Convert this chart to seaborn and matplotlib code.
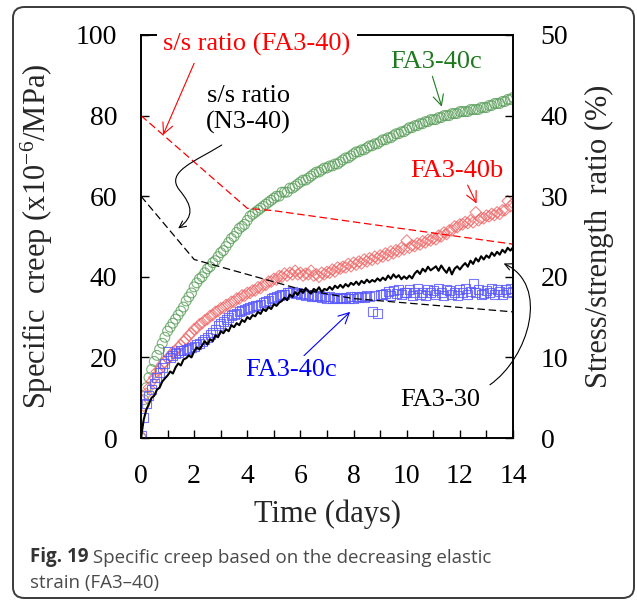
import matplotlib
matplotlib.use("Agg")
import numpy as np
import pandas as pd
import matplotlib.pyplot as plt
import seaborn as sns
from matplotlib.patches import FancyBboxPatch, FancyArrowPatch
from matplotlib.path import Path

# ---------------- data ----------------
days = [round(i * 0.1, 1) for i in range(141)]

creep_fa3_40c_green = [
    0, 9.5, 12.5, 15, 17, 19, 20.5, 22, 23.5, 25, 26.5,
    27.5, 28.5, 29.5, 30.5, 31.5, 32.5, 34, 35, 36, 37.5,
    38.5, 39.5, 40, 41, 42, 42.5, 43.5, 44, 45, 46,
    46.5, 47.5, 48.5, 49.5, 50, 51, 52, 52.5, 53, 54,
    55, 55.5, 56, 56.5, 57, 57.5, 58, 58.5, 59, 59.5,
    60, 60, 61, 61, 61, 62, 62, 62.5, 63, 63.5,
    64, 64, 64.5, 65, 65.5, 66, 66, 66.5, 67, 67,
    67.5, 67.5, 68, 68, 68.5, 69, 69.5, 69.5, 70, 70.5,
    71, 71, 71.5, 71.5, 72, 72.5, 72.5, 73, 73, 73.5,
    74, 74, 74.5, 74.5, 75, 75.5, 75.5, 76, 76, 76.5,
    77, 77, 77.5, 77.5, 78, 78, 78.5, 78.5, 79, 79,
    79, 79.5, 79.5, 80, 80, 80, 80.5, 80.5, 80.5, 81,
    81, 81, 81, 81.5, 81.5, 81.5, 81.5, 82, 82, 82,
    82.5, 82.5, 83, 83, 83, 83.5, 83.5, 84, 84, 84.5,
]

creep_fa3_40b_red = [
    0.5, 8, 11, 12.5, 14, 15, 16.5, 17, 18.3, 18.8, 19.8,
    20.2, 21.3, 21.6, 22.5, 23, 24, 24.5, 25.5, 26, 27,
    27.3, 28.2, 28.5, 29.2, 29.5, 30.3, 30.5, 31.3, 31.5, 32.2,
    32.3, 33, 33, 33.8, 33.8, 34.6, 34.6, 35.4, 35.3, 36,
    36, 36.6, 36.6, 37.4, 37.2, 38, 38, 38.8, 38.8, 39.5,
    39.3, 40.2, 40, 40.8, 40.3, 41, 40.6, 41.5, 40.6, 41,
    40.3, 40.8, 40.6, 41.5, 40.3, 40.6, 40, 41, 40.6, 41.2,
    41, 41.8, 41.3, 42.3, 42, 42.5, 42.3, 43.2, 42.6, 43.5,
    43, 43.8, 43.3, 44.3, 43.8, 44.6, 44.2, 45, 44.5, 45.3,
    45, 45.8, 45.3, 46.3, 45.8, 46.6, 46.3, 47.2, 46.8, 49,
    47.2, 47.8, 47.6, 48.3, 48, 48.8, 48.5, 49.2, 49, 49.6,
    49.3, 50.2, 50, 51, 50.6, 51.5, 51.5, 52.5, 52.3, 53,
    53, 53.6, 53.3, 54, 53.5, 56, 54, 54.6, 54.5, 55.2,
    55, 55.6, 55.3, 56, 55.6, 56.5, 56.5, 58.8, 57.5, 58.2,
]

creep_fa3_40c_blue = [
    0.5, 5, 8.5, 10.5, 12, 13.5, 15, 16.3, 17.5, 18.5, 21.5,
    20, 20.5, 21, 21.3, 21.6, 21.8, 22, 22.3, 22.5, 22.8,
    23.2, 23.5, 24, 24.5, 25, 25.8, 26.3, 27, 27.8, 28.5,
    29, 29.5, 30, 30.3, 30.6, 31, 31.3, 31.6, 31.9, 32.2,
    32.4, 32.6, 32.8, 33, 33.2, 33.5, 33.8, 34.2, 34.5, 34.8,
    35, 35.3, 35.5, 35.7, 36.2, 36.0, 36.4, 35.9, 36.1, 35.6,
    35.8, 35.4, 35.6, 35.2, 35.4, 35.0, 35.3, 34.8, 35.1, 34.7,
    35.0, 34.6, 34.9, 34.5, 34.8, 34.6, 34.9, 34.6, 35.0, 34.7,
    35.0, 34.8, 35.2, 34.9, 35.3, 35.1, 31.5, 35.4, 31.0, 35.6,
    35.6, 35.9, 36.3, 35.3, 36.6, 35.8, 36.9, 35.5, 36.2, 36.0,
    36.8, 35.4, 36.1, 37.0, 35.6, 36.2, 35.3, 36.9, 36.0, 36.6,
    35.5, 37.0, 36.1, 35.4, 36.8, 36.6, 35.7, 36.2, 35.3, 36.9,
    36.1, 37.0, 35.6, 36.3, 38.4, 36.0, 36.9, 35.5, 35.8, 36.7,
    36.2, 37.0, 35.6, 36.8, 36.3, 35.5, 36.9, 36.2, 37.1, 36.4,
]

creep_fa3_30_black = [
    0, 4.5, 7, 8.5, 10, 10.5, 12, 12.5, 14, 14.8, 15.5,
    16.5, 16, 17.5, 18.5, 18, 19.5, 19.8, 20.5, 20, 21.5,
    22.5, 22, 23, 24, 23.2, 24.5, 24, 25.5, 25, 26.5,
    26, 27, 26.5, 28, 27.5, 28.5, 28, 29.3, 28.8, 30,
    29.5, 30.5, 30.2, 31.3, 30.8, 32, 31.5, 32.5, 32, 33.2,
    32.8, 33.6, 34, 34.8, 34.2, 35.6, 35, 36.2, 35.5, 36.7,
    36, 37.2, 36.4, 35.8, 37, 36.5, 37.4, 36.2, 37, 36.7,
    37.5, 36.8, 37.8, 37.2, 38, 37.3, 38.2, 37.6, 38.5, 38,
    38.8, 38, 39, 38.4, 39.3, 38.6, 39.2, 38.8, 39.6, 39,
    39.8, 39.2, 40.3, 39.5, 40.6, 39.8, 40.4, 39.4, 40.1, 39.5,
    40.3, 39.6, 40.8, 41.5, 40.7, 42, 41.3, 42.5, 41.6, 42.1,
    42.6, 41.5, 42.8, 41.8, 41, 42.3, 40.6, 42, 42.6, 41.8,
    42.7, 43.4, 42.5, 44, 43.2, 44.6, 43.8, 45.1, 44.3, 45.3,
    44.7, 46, 45.2, 46.2, 45.5, 46.7, 46, 47.2, 46.5, 47.3,
]

ratio_days_fa3_40 = [0, 4, 5, 14]
ratio_fa3_40 = [40, 28.5, 28.2, 24.05]
ratio_days_n3_40 = [0, 2, 6, 8, 14]
ratio_n3_40 = [30, 22.15, 18.45, 17.3, 15.65]

x_major = [0, 2, 4, 6, 8, 10, 12, 14]
x_minor = [1, 3, 5, 7, 9, 11, 13]
y_left = [0, 20, 40, 60, 80, 100]
y_right = [0, 10, 20, 30, 40, 50]

df = pd.DataFrame({
    "day": days,
    "green": creep_fa3_40c_green,
    "red": creep_fa3_40b_red,
    "blue": creep_fa3_40c_blue,
    "black": creep_fa3_30_black,
})

# ---------------- style ----------------
sns.set_theme(style="white")
plt.rcParams["font.family"] = ["Liberation Serif", "DejaVu Serif"]
plt.rcParams["mathtext.fontset"] = "custom"
plt.rcParams["mathtext.rm"] = "Liberation Serif"
plt.rcParams["mathtext.it"] = "Liberation Serif:italic"
plt.rcParams["mathtext.bf"] = "Liberation Serif:bold"

fig = plt.figure(figsize=(6.37, 6.01), dpi=100)
ax = fig.add_axes([141 / 637, 1 - 438 / 601, 372 / 637, 403 / 601])

sns.scatterplot(data=df, x="day", y="green", marker="o", s=50,
                facecolor="none", edgecolor="#5a9e5a", linewidth=0.8,
                alpha=0.8, ax=ax, zorder=3)
sns.scatterplot(data=df, x="day", y="red", marker="D", s=34,
                facecolor="none", edgecolor="#f06a6a", linewidth=0.8,
                alpha=0.8, ax=ax, zorder=4)
sns.scatterplot(data=df, x="day", y="blue", marker="s", s=42,
                facecolor="none", edgecolor="#5555ff", linewidth=0.8,
                alpha=0.8, ax=ax, zorder=5)
sns.lineplot(data=df, x="day", y="black", color="black", linewidth=1.5,
             ax=ax, zorder=6)

ax.set_xlim(0, 14)
ax.set_ylim(0, 100)
ax.set_xticks(x_major)
ax.set_xticks(x_minor, minor=True)
ax.set_yticks(y_left)
ax.set_xlabel("Time (days)", fontsize=22, labelpad=7)
ax.set_ylabel("Specific  creep (x10$^{\\mathrm{-6}}$/MPa)", fontsize=22, labelpad=15)
ax.tick_params(axis="both", which="both", direction="in", length=6, width=1,
               labelsize=20, pad=17, colors="black", bottom=True, left=True,
               top=False, right=False)
ax.tick_params(axis="x", which="both", pad=19)
for sp in ax.spines.values():
    sp.set_visible(True)
    sp.set_color("black")
    sp.set_linewidth(1.2)

ax2 = ax.twinx()
sns.lineplot(x=ratio_days_fa3_40, y=ratio_fa3_40, color="#ff0000", linewidth=0.9,
             linestyle=(0, (6, 3)), ax=ax2)
sns.lineplot(x=ratio_days_n3_40, y=ratio_n3_40, color="black", linewidth=0.9,
             linestyle=(0, (6, 3)), ax=ax2)
ax2.set_ylim(0, 50)
ax2.set_yticks(y_right)
ax2.set_ylabel("Stress/strength  ratio (%)", fontsize=22, labelpad=12)
ax2.tick_params(axis="y", direction="in", length=6, width=1, labelsize=20,
                pad=20, right=True, left=False, colors="black")
for sp in ax2.spines.values():
    sp.set_color("black")
    sp.set_linewidth(1.2)
ax.grid(False)
ax2.grid(False)

tD = ax.transData
# annotations
ax2.annotate("s/s ratio (FA3-40)", xy=(0.83, 75.2), xycoords=tD,
             xytext=(4.37, 97.6), textcoords=tD, ha="center", va="center",
             fontsize=19, color="#ff0000", zorder=20,
             bbox=dict(boxstyle="square,pad=0.25", fc="white", ec="none"),
             arrowprops=dict(arrowstyle="->", color="#ff0000", lw=0.8,
                             shrinkA=0, shrinkB=0, relpos=(0.18, 0.0)))
ax2.text(4.03, 81.5, "s/s ratio\n(N3-40)", transform=tD, ha="center", va="center",
         fontsize=19, color="black", linespacing=1.2, zorder=20)
ax2.annotate("FA3-40c", xy=(11.32, 82.2), xycoords=tD,
             xytext=(11.1, 93.3), textcoords=tD, ha="center", va="center",
             fontsize=19, color="#1f7a1f", zorder=20,
             arrowprops=dict(arrowstyle="->", color="#1f7a1f", lw=0.8,
                             shrinkA=0, shrinkB=0, relpos=(0.45, 0.0)))
ax2.annotate("FA3-40b", xy=(12.63, 58.2), xycoords=tD,
             xytext=(11.88, 66.3), textcoords=tD, ha="center", va="center",
             fontsize=19, color="#ff0000", zorder=20,
             arrowprops=dict(arrowstyle="->", color="#ff0000", lw=0.8,
                             shrinkA=0, shrinkB=0, relpos=(0.6, 0.0)))
ax2.annotate("FA3-40c", xy=(7.87, 31.3), xycoords=tD,
             xytext=(5.66, 16.9), textcoords=tD, ha="center", va="center",
             fontsize=19, color="#0000ff", zorder=20,
             arrowprops=dict(arrowstyle="->", color="#0000ff", lw=0.8,
                             shrinkA=0, shrinkB=0, relpos=(0.6, 1.0)))
ax2.text(11.25, 9.4, "FA3-30", transform=tD, ha="center", va="center",
         fontsize=19, color="black", zorder=20)

# curved arrows
p1 = Path([(3.04, 72.7), (2.0, 68.5), (0.9, 66.0), (1.45, 61.5),
           (1.95, 57.5), (2.0, 55.0), (1.4, 52.0)],
          [Path.MOVETO, Path.CURVE4, Path.CURVE4, Path.CURVE4,
           Path.CURVE4, Path.CURVE4, Path.CURVE4])
a1 = FancyArrowPatch(path=p1, arrowstyle="->", mutation_scale=12, lw=0.8,
                     color="black", transform=tD, zorder=20)
ax2.add_patch(a1)
p2 = Path([(13.13, 13.2), (14.6, 20.0), (15.4, 38.0), (13.65, 43.3)],
          [Path.MOVETO, Path.CURVE4, Path.CURVE4, Path.CURVE4])
a2 = FancyArrowPatch(path=p2, arrowstyle="->", mutation_scale=12, lw=0.8,
                     color="black", transform=tD, zorder=20, clip_on=False)
ax2.add_patch(a2)

# caption
cap_font = ["Open Sans", "DejaVu Sans"]
t1 = fig.text(30 / 637, 1 - 562 / 601, "Fig. 19", family=cap_font,
              weight="bold", fontsize=13.5, color="#333333", ha="left", va="baseline")
ax2.annotate(" Specific creep based on the decreasing elastic", xy=(1, 0), xycoords=t1,
             ha="left", va="bottom", family=cap_font,
             fontsize=13.5, color="#4a4a4a", annotation_clip=False)
fig.text(30 / 637, 1 - 588 / 601, "strain (FA3\u201340)", family=cap_font,
         fontsize=13.5, color="#4a4a4a", ha="left", va="baseline")

# rounded frame
frame = FancyBboxPatch((13 / 637, 3 / 601), 621 / 637, 591 / 601,
                       boxstyle="round,pad=0,rounding_size=0.018",
                       transform=fig.transFigure, fill=False, ec="#3a3a3a", lw=1.4)
fig.patches.append(frame)

fig.savefig("out.png", dpi=100)
